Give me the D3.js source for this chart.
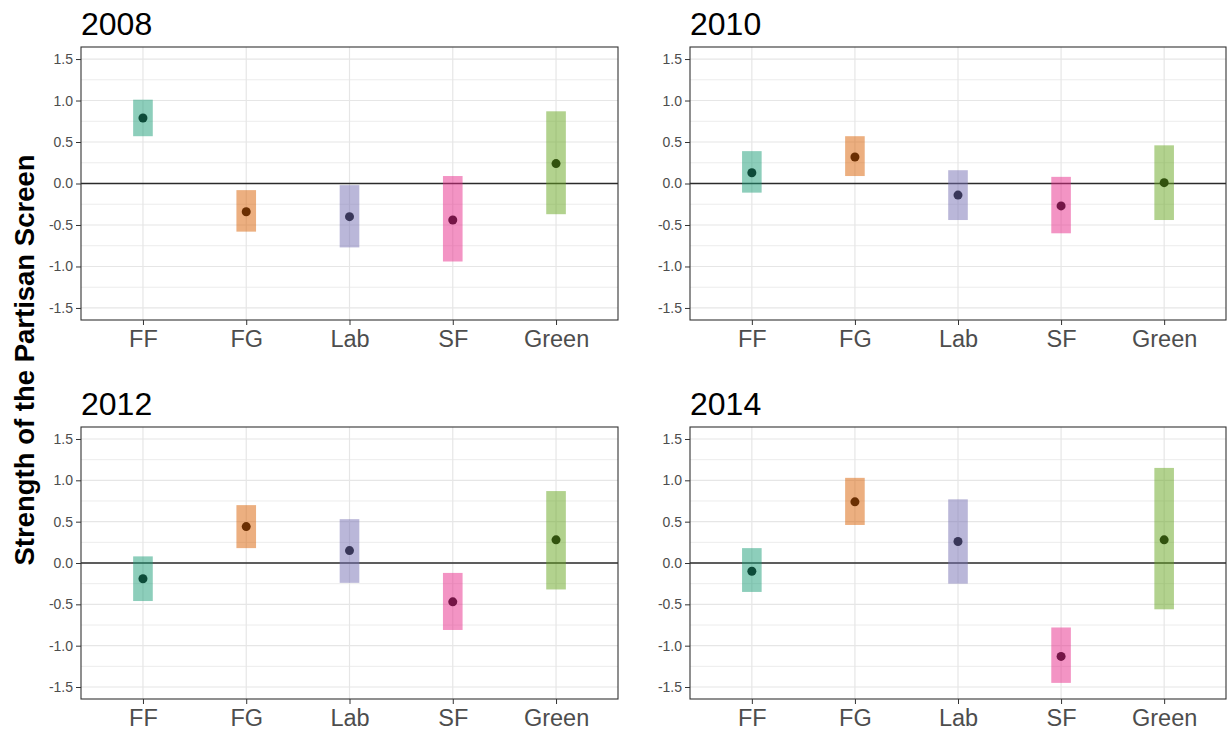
<!DOCTYPE html>
<html>
<head>
<meta charset="utf-8">
<script src="https://cdn.jsdelivr.net/npm/d3@7"></script>
<style>
  body { margin: 0; background: #fff; }
  svg { font-family: Arial, "Liberation Sans", sans-serif; }
</style>
</head>
<body>
<div id="chart"></div>
<script>
// Data
const parties = ['FF', 'FG', 'Lab', 'SF', 'Green'];
const years = ['2008', '2010', '2012', '2014'];
const estimates = [
    [0.79, -0.34, -0.40, -0.44, 0.24],
    [0.13, 0.32, -0.14, -0.27, 0.01],
    [-0.19, 0.44, 0.15, -0.47, 0.28],
    [-0.10, 0.74, 0.26, -1.13, 0.28]
];
const lower = [
    [0.57, -0.58, -0.77, -0.94, -0.37],
    [-0.11, 0.09, -0.44, -0.60, -0.44],
    [-0.46, 0.18, -0.24, -0.81, -0.32],
    [-0.35, 0.46, -0.25, -1.45, -0.56]
];
const upper = [
    [1.01, -0.08, -0.02, 0.09, 0.87],
    [0.39, 0.57, 0.16, 0.08, 0.46],
    [0.08, 0.70, 0.53, -0.12, 0.87],
    [0.18, 1.03, 0.77, -0.78, 1.15]
];
const yTicks = [-1.5, -1.0, -0.5, 0.0, 0.5, 1.0, 1.5];
const yMinor = [-1.25, -0.75, -0.25, 0.25, 0.75, 1.25];
const fillColors = ['#1B9E77', '#D95F02', '#7570B3', '#E7298A', '#66A61E'];
const pointColors = ['#0d4b39', '#6b2f02', '#393759', '#741546', '#31520e'];

const width = 1228, height = 734;
const svg = d3.select('#chart').append('svg')
    .attr('width', width)
    .attr('height', height);

const panels = [
    { x0: 81, x1: 618, y0: 47, y1: 320 },
    { x0: 690, x1: 1226, y0: 47, y1: 320 },
    { x0: 81, x1: 618, y0: 427, y1: 699 },
    { x0: 690, x1: 1226, y0: 427, y1: 699 }
];

years.forEach((year, i) => {
    const p = panels[i];
    const w = p.x1 - p.x0;
    const h = p.y1 - p.y0;
    const g = svg.append('g').attr('transform', `translate(${p.x0},${p.y0})`);

    // discrete axis with ggplot style expansion
    const x = d3.scalePoint().domain(parties).range([0, w]).padding(0.6);
    const y = d3.scaleLinear().domain([-1.645, 1.645]).range([h, 0]);
    const step = x.step();

    // grid
    g.append('g').selectAll('line.minor')
        .data(yMinor).enter().append('line')
        .attr('x1', 0).attr('x2', w)
        .attr('y1', d => y(d)).attr('y2', d => y(d))
        .attr('stroke', '#ececec').attr('stroke-width', 1);
    g.append('g').selectAll('line.major')
        .data(yTicks).enter().append('line')
        .attr('x1', 0).attr('x2', w)
        .attr('y1', d => y(d)).attr('y2', d => y(d))
        .attr('stroke', '#e6e6e6').attr('stroke-width', 1.2);
    g.append('g').selectAll('line.vgrid')
        .data(parties).enter().append('line')
        .attr('x1', d => x(d)).attr('x2', d => x(d))
        .attr('y1', 0).attr('y2', h)
        .attr('stroke', '#e6e6e6').attr('stroke-width', 1.2);

    // zero line
    g.append('line')
        .attr('x1', 0).attr('x2', w)
        .attr('y1', y(0)).attr('y2', y(0))
        .attr('stroke', '#2b2b2b').attr('stroke-width', 1.3);

    // intervals
    g.append('g').selectAll('rect')
        .data(parties).enter().append('rect')
        .attr('x', d => x(d) - step * 0.095)
        .attr('width', step * 0.19)
        .attr('y', (d, j) => y(upper[i][j]))
        .attr('height', (d, j) => y(lower[i][j]) - y(upper[i][j]))
        .attr('fill', (d, j) => fillColors[j])
        .attr('fill-opacity', 0.5);

    // estimates
    g.append('g').selectAll('circle')
        .data(parties).enter().append('circle')
        .attr('cx', d => x(d))
        .attr('cy', (d, j) => y(estimates[i][j]))
        .attr('r', 4.5)
        .attr('fill', (d, j) => pointColors[j]);

    // border
    g.append('rect')
        .attr('width', w).attr('height', h)
        .attr('fill', 'none')
        .attr('stroke', '#333').attr('stroke-width', 1.1);

    // y axis
    const yAxis = g.append('g')
        .call(d3.axisLeft(y).tickValues(yTicks).tickSize(5).tickPadding(3));
    yAxis.select('.domain').remove();
    yAxis.selectAll('line').attr('stroke', '#333');
    yAxis.selectAll('text')
        .attr('fill', '#4d4d4d')
        .style('font-size', '14px')
        .text(d => d3.format('.1f')(d).replace('−', '-'));

    // x axis
    const xAxis = g.append('g')
        .attr('transform', `translate(0,${h})`)
        .call(d3.axisBottom(x).tickSize(5).tickPadding(5));
    xAxis.select('.domain').remove();
    xAxis.selectAll('line').attr('stroke', '#333');
    xAxis.selectAll('text')
        .attr('fill', '#4d4d4d')
        .style('font-size', '23.5px');

    // panel title
    svg.append('text')
        .attr('x', p.x0)
        .attr('y', p.y0 - 12)
        .attr('fill', '#000')
        .style('font-size', '32px')
        .text(year);
});

// shared y label
svg.append('text')
    .attr('transform', `translate(34,360) rotate(-90)`)
    .attr('text-anchor', 'middle')
    .style('font-size', '27.5px')
    .style('font-weight', 'bold')
    .text('Strength of the Partisan Screen');
</script>
</body>
</html>
